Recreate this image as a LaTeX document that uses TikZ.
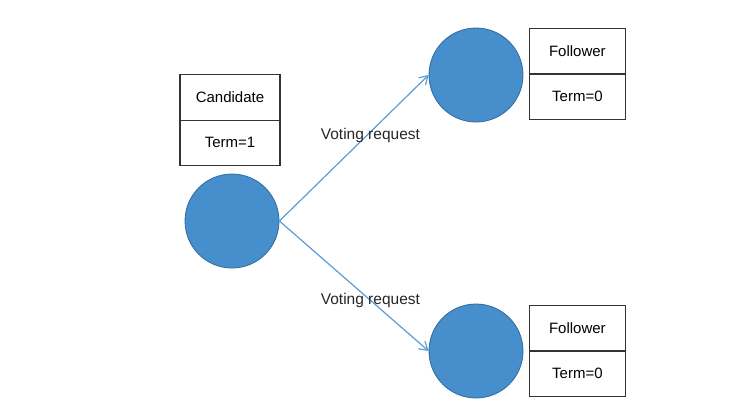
\documentclass[tikz,border=0pt]{standalone}
\usepackage{fontspec}
\setmainfont{Liberation Sans}
\usetikzlibrary{arrows.meta,positioning}
\definecolor{nodeblue}{RGB}{70,142,204}
\definecolor{nodeedge}{RGB}{49,106,156}
\definecolor{linkblue}{RGB}{92,156,214}
\tikzset{
  peer/.style={circle,draw=nodeedge,fill=nodeblue,line width=0.8pt,minimum size=94pt,inner sep=0pt},
  field/.style={draw=black!80,line width=1.1pt,minimum width=96pt,minimum height=45.5pt,inner sep=0pt,outer sep=0pt,font=\fontsize{15}{18}\selectfont},
  vote/.style={-{Straight Barb[length=8pt,width=10pt]},draw=linkblue,line width=1.2pt},
  lab/.style={font=\fontsize{15.5}{18}\selectfont,inner sep=1pt,text=black!85},
}

\begin{document}
\begin{tikzpicture}[x=1pt,y=-1pt]
\useasboundingbox (0,0) rectangle (747,413);

\node[peer] (cand) at (232,221) {};
\node[field,minimum width=100pt,above=8pt of cand,xshift=-2pt] (candterm) {Term=1};
\node[field,minimum width=100pt,above=0pt of candterm] (candrole) {Candidate};

\node[peer] (f1) at (476,75) {};
\node[field,below right=-1pt and 6pt of f1.east] (f1term) {Term=0};
\node[field,above=0pt of f1term] (f1role) {Follower};

\node[peer] (f2) at (476,351) {};
\node[field,below right=0pt and 6pt of f2.east] (f2term) {Term=0};
\node[field,above=0pt of f2term] (f2role) {Follower};

\draw[vote] (cand.east) -- node[lab,pos=0.61,yshift=-4pt]{Voting request} (f1.west);
\draw[vote] (cand.east) -- node[lab,pos=0.61]{Voting request} (f2.west);
\end{tikzpicture}
\end{document}
